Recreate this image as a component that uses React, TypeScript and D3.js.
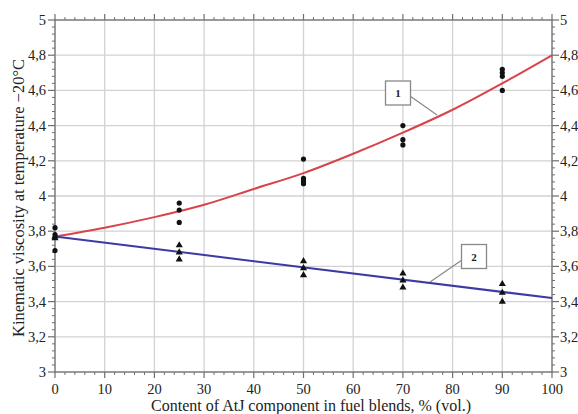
import React from "react";
import * as d3 from "d3";

const xTicks = [0, 10, 20, 30, 40, 50, 60, 70, 80, 90, 100];
const yTicks = [3, 3.2, 3.4, 3.6, 3.8, 4, 4.2, 4.4, 4.6, 4.8, 5];
const yTickLabels = ["3", "3,2", "3,4", "3,6", "3,8", "4", "4,2", "4,4", "4,6", "4,8", "5"];

// Series 1 measured points (circles)
const s1X = [0, 0, 0, 25, 25, 25, 50, 50, 50, 50, 70, 70, 70, 90, 90, 90, 90];
const s1Y = [3.82, 3.78, 3.69, 3.96, 3.92, 3.85, 4.21, 4.1, 4.085, 4.07, 4.4, 4.32, 4.29, 4.72, 4.7, 4.68, 4.6];
// Series 2 measured points (triangles)
const s2X = [0, 0, 25, 25, 25, 50, 50, 50, 70, 70, 70, 90, 90, 90];
const s2Y = [3.77, 3.76, 3.72, 3.68, 3.64, 3.63, 3.59, 3.55, 3.56, 3.52, 3.48, 3.5, 3.45, 3.4];

// Trend curve 1
const c1X = [0, 10, 20, 30, 40, 50, 60, 70, 80, 90, 100];
const c1Y = [3.77, 3.82, 3.88, 3.95, 4.04, 4.13, 4.24, 4.36, 4.49, 4.64, 4.8];
// Trend line 2
const c2X = [0, 100];
const c2Y = [3.77, 3.42];

const W = 578, H = 414;
const L = 55, R = 552, T = 20, B = 372;
const FONT = "Liberation Serif";

export default function App() {
  const x = d3.scaleLinear().domain([0, 100]).range([L, R]);
  const y = d3.scaleLinear().domain([3, 5]).range([B, T]);
  const minorX = d3.range(0, 100.001, 2).filter((v) => Math.abs(v % 10) > 0.01);
  const minorY = d3.range(0, 51).map((i) => 3 + i * 0.04).filter((v, i) => i % 5 !== 0);

  const line = d3
    .line<[number, number]>()
    .x((d) => x(d[0]))
    .y((d) => y(d[1]))
    .curve(d3.curveMonotoneX);
  const c1 = c1X.map((v, i) => [v, c1Y[i]] as [number, number]);
  const c2 = c2X.map((v, i) => [v, c2Y[i]] as [number, number]);
  const tri = d3.symbol().type(d3.symbolTriangle).size(22)();

  const axisColor = "#6f6f6f";
  const gridColor = "#d2d2d2";
  const ts = { fontFamily: FONT };

  return (
    <svg
      width={W}
      height={H}
      style={{ position: "absolute", left: 0, top: 0, background: "#fff" }}
    >
      <rect x={0} y={0} width={W} height={H} fill="#fff" />
      {/* grid */}
      {xTicks.map((t) => (
        <line key={"gx" + t} x1={x(t)} x2={x(t)} y1={T} y2={B} stroke={gridColor} strokeWidth={1.3} />
      ))}
      {yTicks.map((t) => (
        <line key={"gy" + t} x1={L} x2={R} y1={y(t)} y2={y(t)} stroke={gridColor} strokeWidth={1.3} />
      ))}
      {/* frame */}
      <rect x={L} y={T} width={R - L} height={B - T} fill="none" stroke={axisColor} strokeWidth={1.2} />
      {/* major ticks */}
      {xTicks.map((t) => (
        <g key={"tx" + t} stroke={axisColor} strokeWidth={1.2}>
          <line x1={x(t)} x2={x(t)} y1={B} y2={B + 6} />
          <line x1={x(t)} x2={x(t)} y1={T} y2={T - 6} />
        </g>
      ))}
      {minorX.map((t) => (
        <g key={"mx" + t} stroke={axisColor} strokeWidth={1}>
          <line x1={x(t)} x2={x(t)} y1={B} y2={B + 3} />
          <line x1={x(t)} x2={x(t)} y1={T} y2={T - 3} />
        </g>
      ))}
      {yTicks.map((t) => (
        <g key={"ty" + t} stroke={axisColor} strokeWidth={1.2}>
          <line x1={L} x2={L - 7} y1={y(t)} y2={y(t)} />
          <line x1={R} x2={R + 7} y1={y(t)} y2={y(t)} />
        </g>
      ))}
      {minorY.map((t) => (
        <g key={"my" + t} stroke={axisColor} strokeWidth={1}>
          <line x1={L} x2={L - 3} y1={y(t)} y2={y(t)} />
          <line x1={R} x2={R + 3} y1={y(t)} y2={y(t)} />
        </g>
      ))}
      {/* tick labels */}
      {xTicks.map((t) => (
        <text key={"lx" + t} x={x(t)} y={B + 22} textAnchor="middle" fontSize={14.5} fill="#222" style={ts}>
          {t}
        </text>
      ))}
      {yTicks.map((t, i) => (
        <g key={"ly" + t}>
          <text x={L - 9} y={y(t) + 5} textAnchor="end" fontSize={14.5} fill="#222" style={ts}>
            {yTickLabels[i]}
          </text>
          <text x={R + 8} y={y(t) + 5} textAnchor="start" fontSize={14.5} fill="#222" style={ts}>
            {yTickLabels[i]}
          </text>
        </g>
      ))}
      {/* axis titles */}
      <text x={311} y={411} textAnchor="middle" fontSize={16} fill="#222" style={ts}>
        Content of AtJ component in fuel blends, % (vol.)
      </text>
      <text
        transform={`translate(24, ${198}) rotate(-90)`}
        textAnchor="middle"
        fontSize={16.5}
        fill="#222"
        style={ts}
      >
        Kinematic viscosity at temperature −20°C
      </text>
      {/* trend lines */}
      <path d={line(c1) || ""} fill="none" stroke="#d9434a" strokeWidth={2} />
      <path d={line(c2) || ""} fill="none" stroke="#3d3aa6" strokeWidth={2} />
      {/* points */}
      {s1X.map((v, i) => (
        <circle key={"p1" + i} cx={x(v)} cy={y(s1Y[i])} r={2.6} fill="#111" />
      ))}
      {s2X.map((v, i) => (
        <path key={"p2" + i} d={tri || ""} transform={`translate(${x(v)},${y(s2Y[i])})`} fill="#111" />
      ))}
      {/* callouts */}
      <line x1={410} y1={96} x2={437} y2={115} stroke="#888" strokeWidth={1.2} />
      <rect x={385.5} y={81} width={25} height={24} fill="#fff" stroke="#888" strokeWidth={1.3} />
      <text x={398} y={97} textAnchor="middle" fontSize={11} fontWeight="bold" fill="#222" style={ts}>
        1
      </text>
      <line x1={462} y1={260} x2={430} y2={282} stroke="#888" strokeWidth={1.2} />
      <rect x={461.5} y={244.5} width={25} height={24} fill="#fff" stroke="#888" strokeWidth={1.3} />
      <text x={474} y={261} textAnchor="middle" fontSize={11} fontWeight="bold" fill="#222" style={ts}>
        2
      </text>
    </svg>
  );
}
